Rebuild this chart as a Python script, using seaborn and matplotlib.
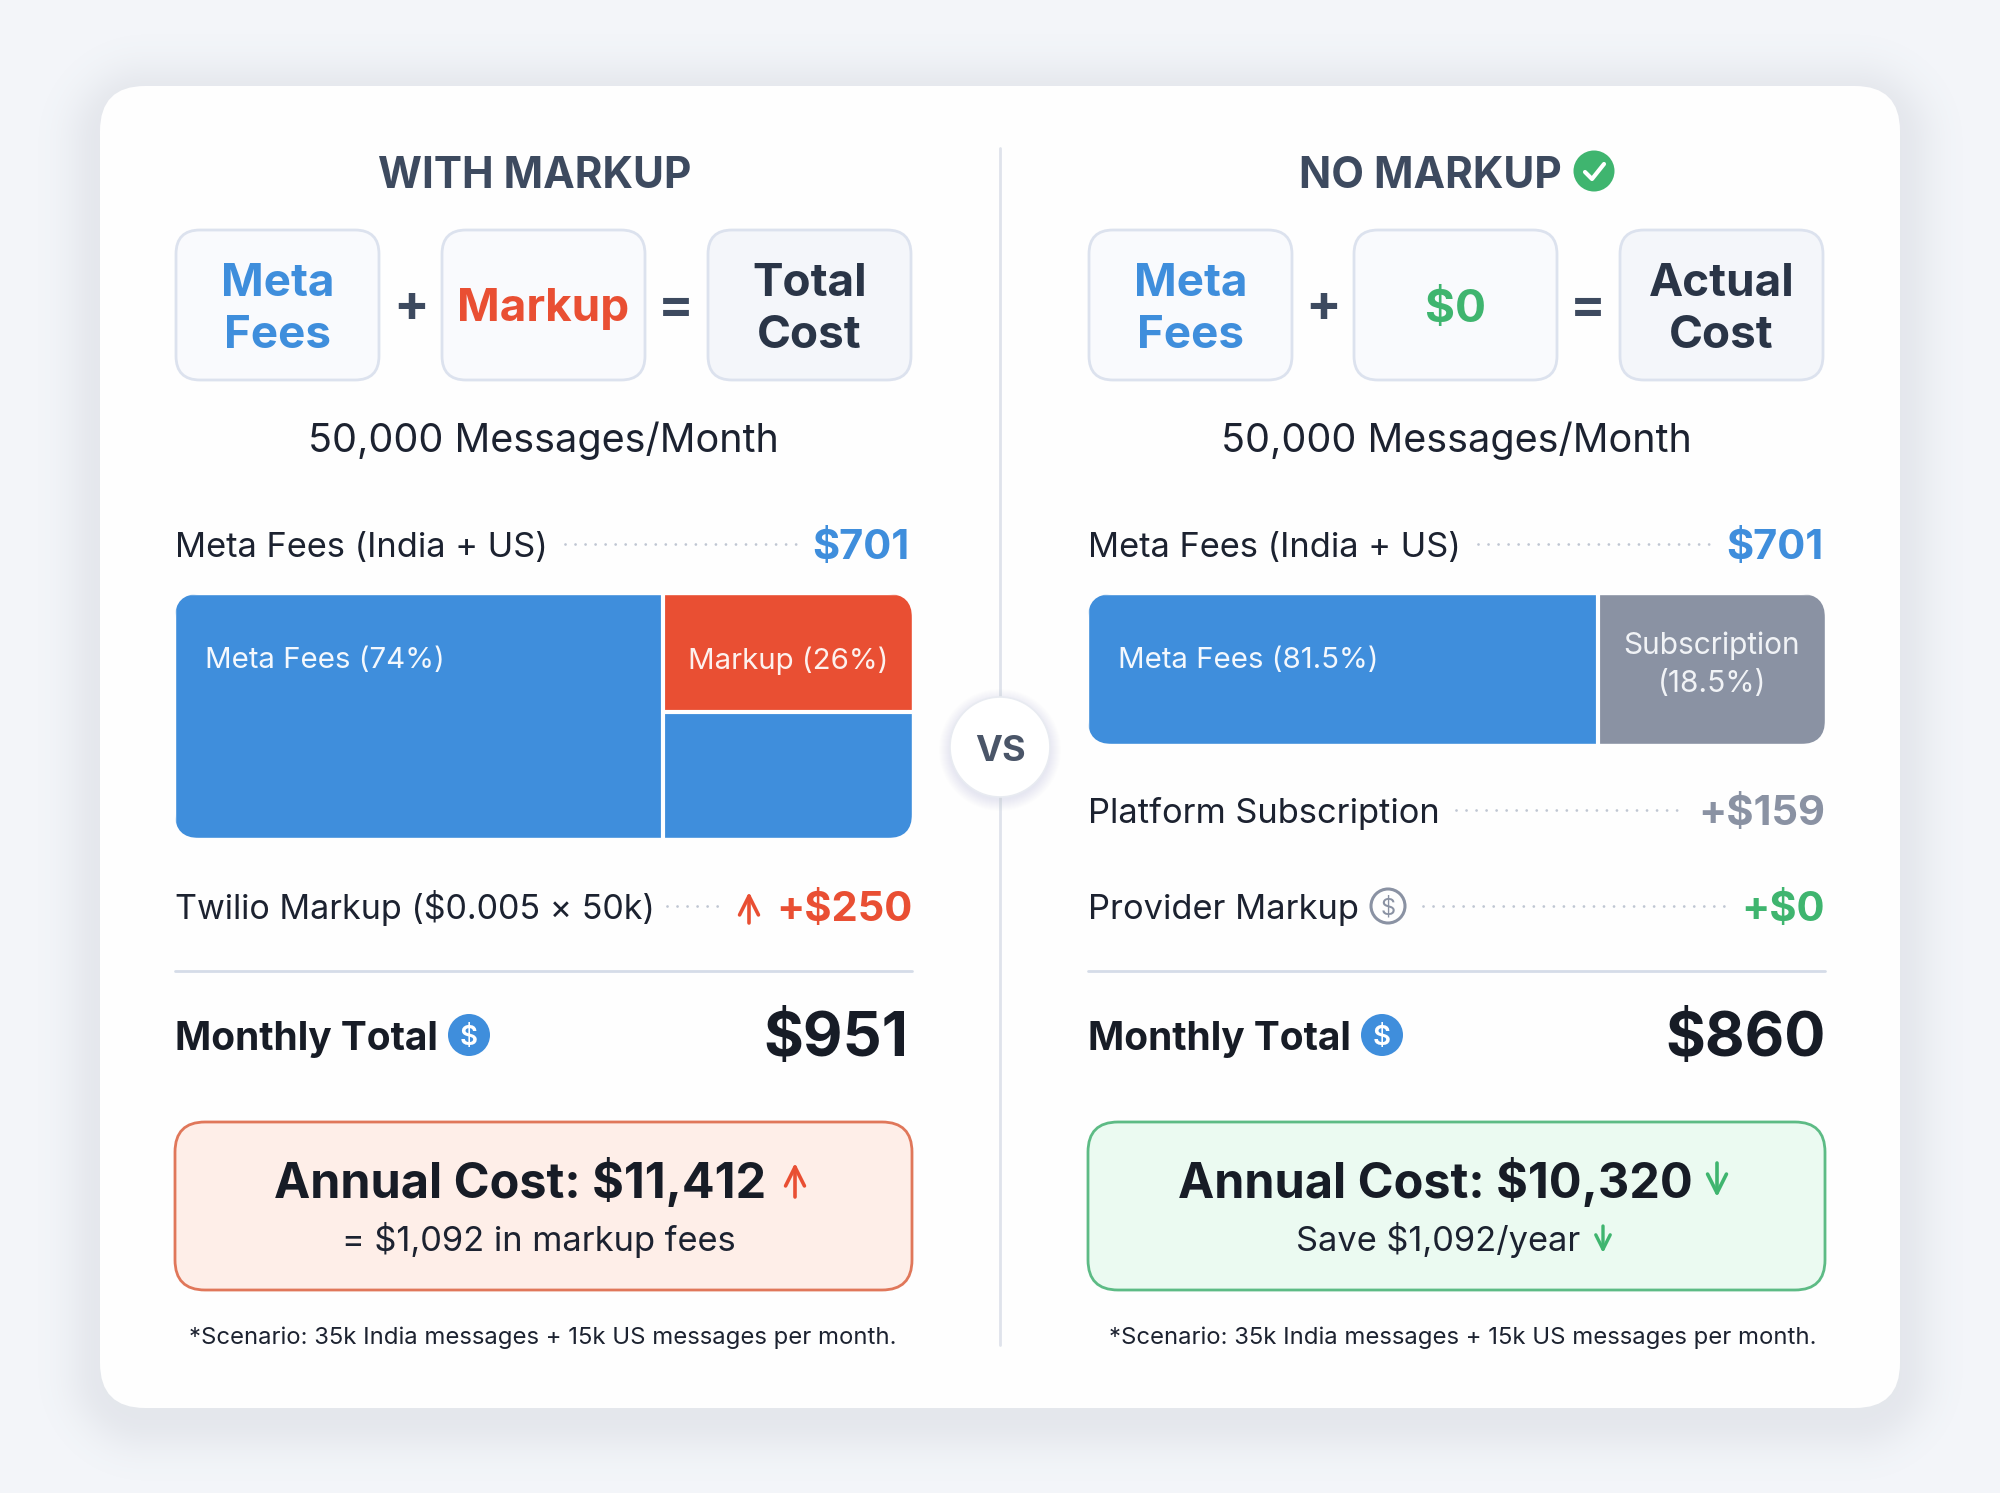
import matplotlib
matplotlib.use("Agg")
import matplotlib.pyplot as plt
import numpy as np
import seaborn as sns
from matplotlib.patches import Circle, FancyBboxPatch

# Values
left_formula = [["Meta", "Fees"], ["Markup"], ["Total", "Cost"]]
right_formula = [["Meta", "Fees"], ["$0"], ["Actual", "Cost"]]
volume_label = "50,000 Messages/Month"
meta_label = "Meta Fees (India + US)"
meta_value = "$701"
twilio_label = "Twilio Markup ($0.005 \u00d7 50k)"
twilio_value = "+$250"
subscription_label = "Platform Subscription"
subscription_value = "+$159"
provider_label = "Provider Markup"
provider_value = "+$0"
monthly_label = "Monthly Total"
monthly_values = ["$951", "$860"]
annual_labels = ["Annual Cost: $11,412", "Annual Cost: $10,320"]
annual_notes = ["= $1,092 in markup fees", "Save $1,092/year"]
scenario_note = "*Scenario: 35k India messages + 15k US messages per month."

# bar widths as drawn (the printed percentages do not match the drawn widths)
markup_bar_main = 66.2
markup_bar_side = 33.8
markup_col_top = 48.4
markup_col_bottom = 51.6
nomarkup_bar = [69.2, 30.8]

BLUE = "#3F8EDC"
RED = "#E94F33"
GREEN = "#3FB56F"
GREY = "#8A92A3"
DARK = "#171C26"
SLATE = "#3D4A5F"
W, H = 2000, 1493

sns.set_theme(style="white")
plt.rcParams["font.family"] = ["Inter", "DejaVu Sans"]

fig = plt.figure(figsize=(W / 100, H / 100), dpi=100, facecolor="#F3F5F9")


def px_axes(x, y, w, h, z):
    ax = fig.add_axes([x / W, 1 - (y + h) / H, w / W, h / H], zorder=z)
    ax.axis("off")
    return ax


bg = px_axes(0, 0, W, H, 0)
bg.set_xlim(0, W)
bg.set_ylim(H, 0)
top = px_axes(0, 0, W, H, 5)
top.set_xlim(0, W)
top.set_ylim(H, 0)
top.patch.set_alpha(0)


def rbox(ax, x, y, w, h, r, fc, ec="none", lw=0, **kw):
    p = FancyBboxPatch((x, y), w, h, boxstyle=f"round,pad=0,rounding_size={r}",
                       fc=fc, ec=ec, lw=lw, **kw)
    ax.add_patch(p)
    return p


def txt(x, y, s, size, color=DARK, weight="normal", ha="center"):
    return top.text(x, y, s, fontsize=size, color=color, fontweight=weight,
                    ha=ha, va="center_baseline")


def dots(x0, x1, y):
    top.plot([x0, x1], [y, y], color="#BFC6D2", lw=2, ls=(0, (0.01, 3.6)),
             dash_capstyle="round")


def arrow(x, y0, y1, color, size=34, lw=2.6):
    top.annotate("", xy=(x, y1), xytext=(x, y0),
                 arrowprops=dict(arrowstyle="->", color=color, lw=lw,
                                 mutation_scale=size, shrinkA=0, shrinkB=0))


def dollar_icon(x, y, r):
    top.add_patch(Circle((x, y), r, fc=BLUE, ec="none"))
    txt(x, y, "$", 20, "white", "semibold")


# soft page shadow from the distance to the card outline
yy, xx = np.mgrid[0:H, 0:W]
dx = np.abs(xx - 1000) - (900 - 45)
dy = np.abs(yy - 757) - (661 - 45)
dist = np.hypot(np.maximum(dx, 0), np.maximum(dy, 0)) - 45
shadow = np.zeros((H, W, 4))
shadow[..., :3] = matplotlib.colors.to_rgb("#6F788A")
shadow[..., 3] = 0.11 * np.exp(-(np.maximum(dist, 0) / 34) ** 2)
bg.imshow(shadow, extent=(0, W, H, 0), aspect="auto", zorder=0)
bg.set_xlim(0, W)
bg.set_ylim(H, 0)

rbox(bg, 100, 86, 1800, 1322, 45, "#FEFEFE", zorder=1)
bg.plot([1000, 1000], [148, 1345], color="#DFE3EB", lw=2, zorder=2)

# VS badge
for i in range(12):
    bg.add_patch(Circle((1000, 750), 50 + i, fc="#8A94A8", ec="none", alpha=0.01, zorder=2))
bg.add_patch(Circle((1000, 747), 50, fc="white", ec="#E8EBF1", lw=1.2, zorder=3))
txt(1000, 748, "VS", 26, "#4A5568", "bold")

# column headers
txt(535, 172, "WITH MARKUP", 30.5, SLATE, "bold")
txt(1430, 172, "NO MARKUP", 30.5, SLATE, "bold")
top.add_patch(Circle((1594, 171), 20.5, fc=GREEN, ec="none"))
top.plot([1585, 1592, 1604], [172, 179, 164], color="white", lw=3,
         solid_capstyle="round", solid_joinstyle="round")

# formula row
BOX_X = [[175, 441, 707], [1088, 1353, 1619]]
OPS = [[(411, "+"), (676, "=")], [(1323, "+"), (1588, "=")]]
formula_colors = [BLUE, None, "#2A3547"]
for side, formula in enumerate([left_formula, right_formula]):
    mid = RED if side == 0 else GREEN
    for j, lines in enumerate(formula):
        x = BOX_X[side][j]
        rbox(bg, x + 1, 230, 203, 150, 24, "#F4F6FA" if j == 2 else "#F9FAFD", "#DCE2EE", 2,
             zorder=2)
        c = formula_colors[j] or mid
        cx = x + 102.5
        if len(lines) == 2:
            txt(cx, 280, lines[0], 33, c, "bold")
            txt(cx, 331, lines[1], 33, c, "bold")
        else:
            txt(cx, 305, lines[0], 33, c, "bold")
    for ox, op in OPS[side]:
        txt(ox, 303, op, 38, SLATE, "bold")

# per column rows
MONTHLY_X = [908, 1826]
for side, (x0, x1) in enumerate([(175, 912), (1088, 1825)]):
    cx = (x0 + x1) / 2
    txt(cx, 437, volume_label, 28.5, "#1C2230")
    txt(x0, 544, meta_label, 24.8, "#1C2230", ha="left")
    dots(x0 + 390, x0 + 624, 544)
    txt(x1 - 2, 544, meta_value, 30, BLUE, "bold", ha="right")
    bg.plot([x0, x1], [971, 971], color="#D5DCE8", lw=2, zorder=2)
    txt(x0, 1035, monthly_label, 28, DARK, "bold", ha="left")
    dollar_icon(x0 + 294, 1035, 21)
    txt(MONTHLY_X[side], 1034, monthly_values[side], 44, DARK, "bold", ha="right")

txt(175, 904, twilio_label, 24.5, "#1C2230", ha="left")
dots(667, 722, 906)
arrow(749, 923, 892, RED)
txt(913, 906, twilio_value, 30, RED, "bold", ha="right")

txt(1088, 810, subscription_label, 24.8, "#1C2230", ha="left")
dots(1456, 1684, 810)
txt(1825, 810, subscription_value, 30, GREY, "bold", ha="right")

txt(1088, 906, provider_label, 24.8, "#1C2230", ha="left")
top.add_patch(Circle((1388, 906), 17, fc="none", ec=GREY, lw=2.2))
txt(1388, 906, "$", 17, GREY)
dots(1423, 1728, 906)
txt(1825, 906, provider_value, 30, GREEN, "bold", ha="right")

# annual boxes
rbox(bg, 175, 1122, 737, 168, 30, "#FEEEE8", "#E0775A", 2, zorder=2)
rbox(bg, 1088, 1122, 737, 168, 30, "#EBFAF1", "#5DBB85", 2, zorder=2)
txt(520, 1178, annual_labels[0], 35, DARK, "bold")
txt(1435, 1178, annual_labels[1], 35, DARK, "bold")
arrow(795, 1197, 1163, RED)
arrow(1717, 1163, 1197, GREEN)
txt(539, 1237, annual_notes[0], 24.8, "#1C2230")
txt(1438, 1237, annual_notes[1], 24.8, "#1C2230")
arrow(1603, 1226, 1253, GREEN, size=26, lw=2.4)
txt(543, 1335, scenario_note, 17.2, "#1C2230")
txt(1463, 1335, scenario_note, 17.2, "#1C2230")

# WITH MARKUP block: wide bar plus a split side column
clip_left = FancyBboxPatch((175, 594), 737, 244, boxstyle="round,pad=0,rounding_size=24",
                           transform=bg.transData)
ax_left = px_axes(175, 594, 737, 244, 2)
sns.barplot(x=[markup_bar_main], y=["meta"], color=BLUE, saturation=1, width=1, ax=ax_left)
ax_left.set_xlim(0, 100)
ax_left.set_ylim(0.5, -0.5)
ax_left.axis("off")

ax_col = ax_left.inset_axes([markup_bar_main, 0, markup_bar_side, 1],
                            transform=ax_left.get_xaxis_transform())
sns.barplot(x=["side"], y=[markup_col_top], color=RED, saturation=1, width=1, ax=ax_col)
sns.barplot(x=["side"], y=[markup_col_bottom], bottom=markup_col_top, color=BLUE,
            saturation=1, width=1, ax=ax_col)
ax_col.set_xlim(-0.5, 0.5)
ax_col.set_ylim(100, 0)
ax_col.axis("off")
ax_col.axhline(markup_col_top, color="white", lw=3)
ax_left.axvline(markup_bar_main, color="white", lw=3, zorder=6)

for bar in list(ax_left.patches) + list(ax_col.patches):
    bar.set_clip_path(clip_left)

# NO MARKUP block
clip_right = FancyBboxPatch((1088, 594), 737, 150, boxstyle="round,pad=0,rounding_size=24",
                            transform=bg.transData)
ax_right = px_axes(1088, 594, 737, 150, 2)
sns.barplot(x=[nomarkup_bar[0]], y=["fees"], color=BLUE, saturation=1, width=1, ax=ax_right)
sns.barplot(x=[nomarkup_bar[1]], y=["fees"], left=nomarkup_bar[0], color=GREY, saturation=1,
            width=1, ax=ax_right)
ax_right.set_xlim(0, 100)
ax_right.set_ylim(0.5, -0.5)
ax_right.axis("off")
ax_right.axvline(nomarkup_bar[0], color="white", lw=3, zorder=6)
for bar in ax_right.patches:
    bar.set_clip_path(clip_right)

txt(205, 658, "Meta Fees (74%)", 21.2, "#F4F8FD", ha="left")
txt(788, 658, "Markup (26%)", 21.2, "#FDF1EE")
txt(1118, 658, "Meta Fees (81.5%)", 21.2, "#F4F8FD", ha="left")
txt(1712, 643, "Subscription", 21.5, "#F1F3F6")
txt(1712, 681, "(18.5%)", 21.5, "#F1F3F6")

fig.savefig("out.png", dpi=100, facecolor=fig.get_facecolor())
plt.close(fig)
